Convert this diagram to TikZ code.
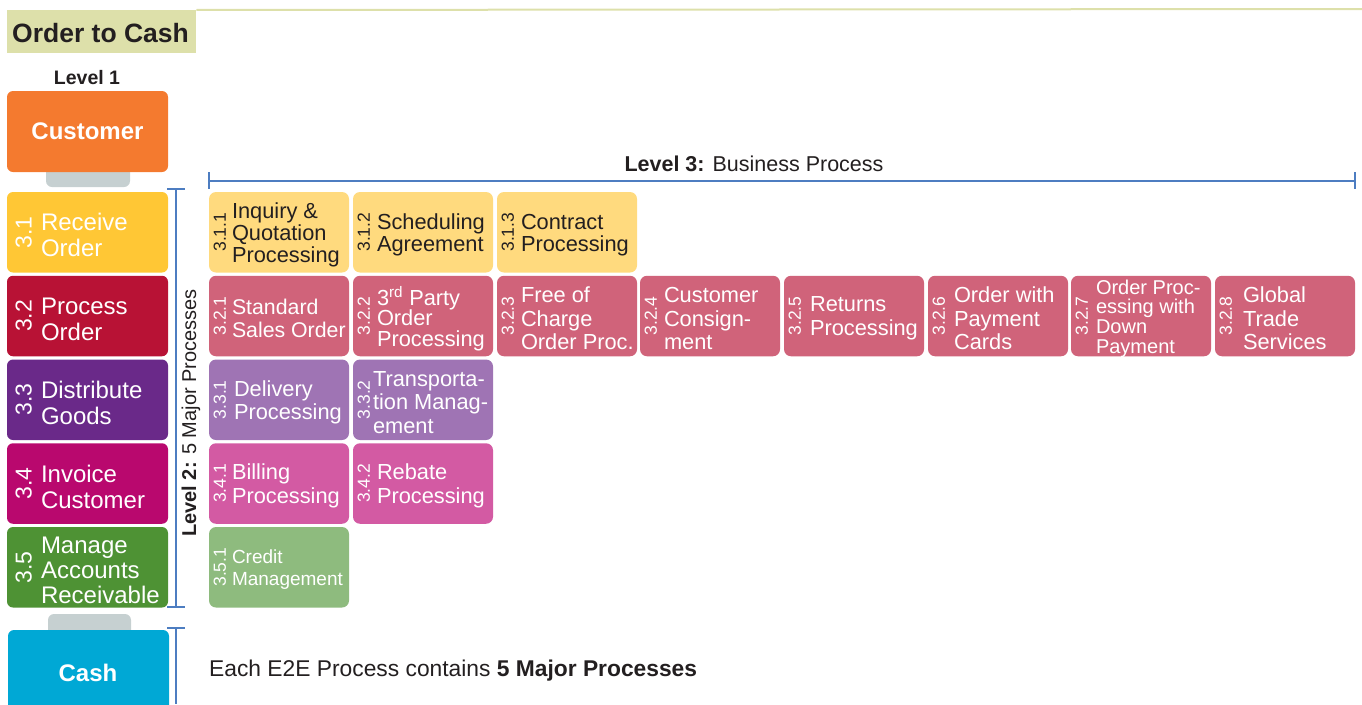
\documentclass[tikz,border=0pt]{standalone}
\usepackage{fontspec}
\setmainfont{Liberation Sans}
\usetikzlibrary{calc}
\definecolor{titlebg}{HTML}{DDE0AA}
\definecolor{corange}{HTML}{F47A2F}
\definecolor{tabgrey}{HTML}{C6D0D1}
\definecolor{c31}{HTML}{FFC735}
\definecolor{c32}{HTML}{B81235}
\definecolor{c33}{HTML}{6A2989}
\definecolor{c34}{HTML}{B9086E}
\definecolor{c35}{HTML}{4E9234}
\definecolor{ccash}{HTML}{00A8D5}
\definecolor{l31}{HTML}{FFDA7E}
\definecolor{l32}{HTML}{D0637A}
\definecolor{l33}{HTML}{9F74B4}
\definecolor{l34}{HTML}{D35AA3}
\definecolor{l35}{HTML}{8EBB7E}
\definecolor{brk}{HTML}{4D7DC1}
\definecolor{tdark}{HTML}{231F20}

% Level-3 box: name, left x, top y, fill, text colour, number, text, extra text options
\newcommand{\ltb}[8]{%
  \node[l3box, fill=#4] (#1) at (#2+70, #3+40.25) {};
  \node[num3, text=#5] (#1n) at ([xshift=11pt]#1.west) {#6};
  \node[l3txt, text=#5, #8] (#1t) at ([xshift=24pt]#1.west) {#7};
}
% Level-2 box: name, top y, fill, number, text, extra text options
\newcommand{\lmb}[6]{%
  \node[l1box, fill=#3] (#1) at (87.5, #2+40.25) {};
  \node[num2] (#1n) at ([xshift=17pt]#1.west) {#4};
  \node[l2txt, #6] (#1t) at ([xshift=34pt]#1.west) {#5};
}

\begin{document}
\begin{tikzpicture}[x=1pt, y=-1pt,
  box/.style={rounded corners=6pt, inner sep=0pt, draw=none},
  l1box/.style={box, minimum width=161pt, minimum height=80.5pt},
  l3box/.style={box, rounded corners=7pt, minimum width=140pt, minimum height=80.5pt},
  num2/.style={rotate=90, inner sep=0pt, text=white, font=\fontsize{23}{23}\selectfont},
  num3/.style={rotate=90, inner sep=0pt, font=\fontsize{17.5}{17.5}\selectfont},
  l2txt/.style={anchor=west, align=left, inner sep=0pt, yshift=-3pt, text=white, font=\fontsize{24}{26}\selectfont},
  l3txt/.style={anchor=west, align=left, inner sep=0pt, yshift=-2.5pt, font=\fontsize{21.8}{23.5}\selectfont},
  bracket/.style={draw=brk, line width=1.8pt},
  tab/.style={fill=tabgrey, rounded corners=6pt}
]
\useasboundingbox (0,0) rectangle (1362,704);

% title
\node[fill=titlebg, minimum width=189pt, minimum height=43pt, inner sep=0pt, anchor=north west] (title) at (7,10) {};
\node[anchor=west, inner sep=0pt, text=tdark, font=\bfseries\fontsize{26.5}{27}\selectfont] (titletxt) at (12,33) {Order to Cash};
\coordinate (topend) at (1362,9);
\draw[titlebg, line width=2pt] (title.north east) -- (topend);

% Level 1
\node[text=tdark, font=\bfseries\fontsize{19.5}{19.5}\selectfont] (lvl1) at (87,78) {Level 1};

% grey tabs
\fill[tab] (46,160) rectangle (130,187);
\fill[tab] (48,614) rectangle (131,645);

% customer
\node[l1box, minimum height=81pt, fill=corange, text=white, font=\bfseries\fontsize{24}{26}\selectfont] (cust) at (87.5,131.5) {Customer};

% level 2 boxes
\lmb{p31}{192}{c31}{3.1}{Receive\\Order}{}
\lmb{p32}{275.75}{c32}{3.2}{Process\\Order}{}
\lmb{p33}{359.5}{c33}{3.3}{Distribute\\Goods}{}
\lmb{p34}{443.25}{c34}{3.4}{Invoice\\Customer}{}
\lmb{p35}{527}{c35}{3.5}{Manage\\Accounts\\Receivable}{font=\fontsize{24}{25}\selectfont}

% cash
\begin{scope}
\clip (0,0) rectangle (1362,704);
\node[l1box, minimum height=110pt, fill=ccash] (cash) at (88.5,685) {};
\end{scope}
\node[text=white, font=\bfseries\fontsize{24}{24}\selectfont] (cashtxt) at (88,673) {Cash};

% level 3 header and bracket
\node[text=tdark, font=\fontsize{21.5}{21.5}\selectfont] (lvl3) at (754,164) {\textbf{Level 3:} Business Process};
\coordinate (b3l) at (209,181);
\coordinate (b3r) at (1355,181);
\draw[bracket] (b3l) -- (b3r);
\draw[bracket] ([yshift=9pt]b3l) -- ([yshift=-8pt]b3l);
\draw[bracket] ([yshift=9pt]b3r) -- ([yshift=-8pt]b3r);

% level 2 bracket
\coordinate (b2t) at (176,189);
\coordinate (b2b) at (176,607);
\draw[bracket] (b2t) -- (b2b);
\draw[bracket] ([xshift=-9pt]b2t) -- ([xshift=9pt]b2t);
\draw[bracket] ([xshift=-9pt]b2b) -- ([xshift=9pt]b2b);
\node[rotate=90, text=tdark, font=\fontsize{20}{20}\selectfont] (lvl2) at (191,413) {\textbf{Level 2:} 5 Major Processes};

% cash bracket
\coordinate (b4t) at (176,628);
\coordinate (b4b) at (176,704);
\draw[bracket] (b4t) -- (b4b);
\draw[bracket] ([xshift=-9pt]b4t) -- ([xshift=9pt]b4t);

% level 3 boxes
\ltb{b311}{209}{192}{l31}{tdark}{3.1.1}{Inquiry \&\\Quotation\\Processing}{font=\fontsize{21.8}{22}\selectfont, xshift=-1pt}
\ltb{b312}{353}{192}{l31}{tdark}{3.1.2}{Scheduling\\Agreement}{font=\fontsize{21.8}{22}\selectfont}
\ltb{b313}{497}{192}{l31}{tdark}{3.1.3}{Contract\\Processing}{font=\fontsize{21.8}{22}\selectfont}

\ltb{b321}{209}{275.75}{l32}{white}{3.2.1}{Standard\\Sales Order}{font=\fontsize{21.3}{23.5}\selectfont, xshift=-1pt}
\ltb{b322}{353}{275.75}{l32}{white}{3.2.2}{3\textsuperscript{rd} Party\\Order\\Processing}{font=\fontsize{21.8}{20.5}\selectfont}
\ltb{b323}{497}{275.75}{l32}{white}{3.2.3}{Free of\\Charge\\Order Proc.}{}
\ltb{b324}{640}{275.75}{l32}{white}{3.2.4}{Customer\\Consign-\\ment}{}
\ltb{b325}{784}{275.75}{l32}{white}{3.2.5}{Returns\\Processing}{xshift=2pt}
\ltb{b326}{928}{275.75}{l32}{white}{3.2.6}{Order with\\Payment\\Cards}{xshift=2pt}
\ltb{b327}{1071}{275.75}{l32}{white}{3.2.7}{Order Proc-\\essing with\\Down\\Payment}{font=\fontsize{20}{19.7}\selectfont, xshift=1pt}
\ltb{b328}{1215}{275.75}{l32}{white}{3.2.8}{Global\\Trade\\Services}{xshift=4pt}

\ltb{b331}{209}{359.5}{l33}{white}{3.3.1}{Delivery\\Processing}{xshift=1pt}
\ltb{b332}{353}{359.5}{l33}{white}{3.3.2}{Transporta-\\tion Manag-\\ement}{xshift=-4pt}

\ltb{b341}{209}{443.25}{l34}{white}{3.4.1}{Billing\\Processing}{xshift=-1pt}
\ltb{b342}{353}{443.25}{l34}{white}{3.4.2}{Rebate\\Processing}{}

\ltb{b351}{209}{527}{l35}{white}{3.5.1}{Credit\\Management}{font=\fontsize{19}{22}\selectfont, xshift=-1pt}

% note
\node[anchor=west, inner sep=0pt, text=tdark, font=\fontsize{22.8}{22.8}\selectfont] (note) at (209,671) {Each E2E Process contains \textbf{5 Major Processes}};
\end{tikzpicture}
\end{document}
